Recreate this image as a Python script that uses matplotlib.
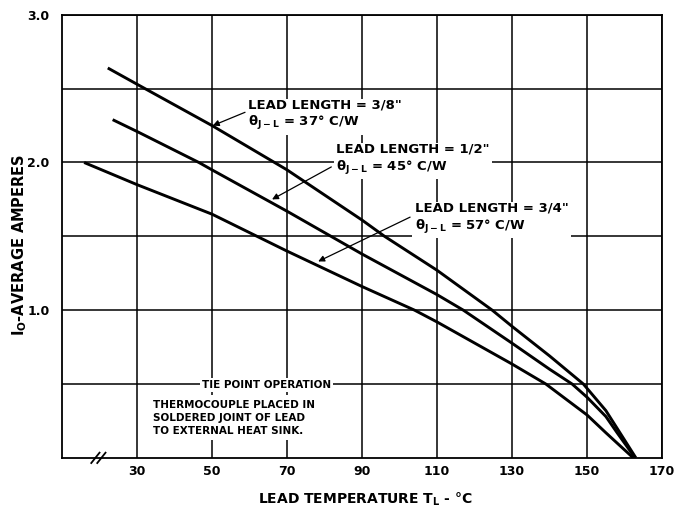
import matplotlib
matplotlib.use("Agg")
import matplotlib.pyplot as plt
import numpy as np

plt.rcParams['font.family'] = ['DejaVu Sans']
plt.rcParams['font.weight'] = 'bold'
plt.rcParams['mathtext.default'] = 'regular'

# Data
temp_38 = [22.2, 30, 50, 70, 90, 96, 110, 124.7, 130, 140, 149, 155, 158, 163.0]
amps_38 = [2.64, 2.53, 2.25, 1.95, 1.61, 1.50, 1.27, 1.00, 0.89, 0.69, 0.50, 0.32, 0.20, 0.0]
temp_12 = [23.5, 30, 46.5, 50, 70, 90, 110, 117, 130, 140, 146, 150, 155, 158, 162.8]
amps_12 = [2.29, 2.21, 2.00, 1.95, 1.67, 1.38, 1.105, 1.00, 0.776, 0.60, 0.50, 0.41, 0.28, 0.17, 0.0]
temp_34 = [15.9, 30, 50, 62, 70, 90, 104, 110, 130, 139, 150, 155, 158, 162.3]
amps_34 = [2.00, 1.85, 1.65, 1.50, 1.40, 1.16, 1.00, 0.92, 0.635, 0.50, 0.29, 0.17, 0.10, 0.0]

x_ticks = [30, 50, 70, 90, 110, 130, 150, 170]
y_ticks = [1.0, 2.0, 3.0]
y_tick_labels = ["1.0", "2.0", "3.0"]
y_minor = [0.5, 1.5, 2.5]

fig = plt.figure(figsize=(6.89, 5.11), dpi=100)
ax = fig.add_axes([0.090, 0.104, 0.871, 0.867])

ax.set_xlim(10, 170)
ax.set_ylim(0, 3.0)

# Grid
for xv in x_ticks:
    ax.axvline(xv, color='black', lw=1.1, zorder=1)
for yv in y_ticks + y_minor:
    ax.axhline(yv, color='black', lw=1.1, zorder=1)

for s in ax.spines.values():
    s.set_linewidth(1.3)
    s.set_color('black')

ax.set_xticks(x_ticks)
ax.set_xticklabels([str(v) for v in x_ticks], fontsize=9, fontweight='bold')
ax.set_yticks(y_ticks)
ax.set_yticklabels(y_tick_labels, fontsize=9, fontweight='bold')
ax.tick_params(axis='both', length=0)
ax.tick_params(axis='x', pad=5)
ax.tick_params(axis='y', pad=9)

# Curves
for t, a in [(temp_38, amps_38), (temp_12, amps_12), (temp_34, amps_34)]:
    ax.plot(t, a, color='black', lw=2.1, solid_capstyle='butt',
            solid_joinstyle='round', zorder=3)

box = dict(boxstyle='square,pad=0.2', facecolor='white', edgecolor='none')
arrow = dict(arrowstyle='-|>', color='black', lw=0.9, mutation_scale=9,
             shrinkA=0, shrinkB=0)

# Annotations
ax.text(59.6, 2.435, 'LEAD LENGTH = 3/8"\nθ$_{J-L}$ = 37° C/W', fontsize=9.5,
        fontweight='bold', va='top', ha='left', linespacing=1.25, bbox=box, zorder=4)
ax.annotate('', xy=(50.2, 2.25), xytext=(58.8, 2.34), arrowprops=arrow, zorder=5)

ax.text(83.1, 2.135, 'LEAD LENGTH = 1/2"\nθ$_{J-L}$ = 45° C/W', fontsize=9.5,
        fontweight='bold', va='top', ha='left', linespacing=1.25, bbox=box, zorder=4)
ax.annotate('', xy=(66, 1.75), xytext=(81.8, 1.97), arrowprops=arrow, zorder=5)

ax.text(104.1, 1.735, 'LEAD LENGTH = 3/4"\nθ$_{J-L}$ = 57° C/W', fontsize=9.5,
        fontweight='bold', va='top', ha='left', linespacing=1.25, bbox=box, zorder=4)
ax.annotate('', xy=(78.3, 1.33), xytext=(102.8, 1.63), arrowprops=arrow, zorder=5)

ax.text(47.3, 0.495, 'TIE POINT OPERATION', fontsize=7.5, fontweight='bold',
        va='center', ha='left', bbox=box, zorder=4)
ax.text(34.3, 0.395, 'THERMOCOUPLE PLACED IN\nSOLDERED JOINT OF LEAD\nTO EXTERNAL HEAT SINK.',
        fontsize=7.5, fontweight='bold', va='top', ha='left', linespacing=1.4,
        bbox=dict(boxstyle='square,pad=0.4', facecolor='white', edgecolor='none'), zorder=4)

# Axis break mark
for x0 in (17.8, 19.4):
    ax.plot([x0, x0 + 2.2], [-0.035, 0.035], color='black', lw=1.3,
            clip_on=False, zorder=6)

fig.text(0.53, 0.022, 'LEAD TEMPERATURE T$_L$ - °C', fontsize=10, fontweight='bold',
         ha='center', va='center')
fig.text(0.029, 0.52, 'I$_O$-AVERAGE AMPERES', fontsize=10.5, fontweight='bold',
         ha='center', va='center', rotation=90)

fig.savefig('out.png', dpi=100)
